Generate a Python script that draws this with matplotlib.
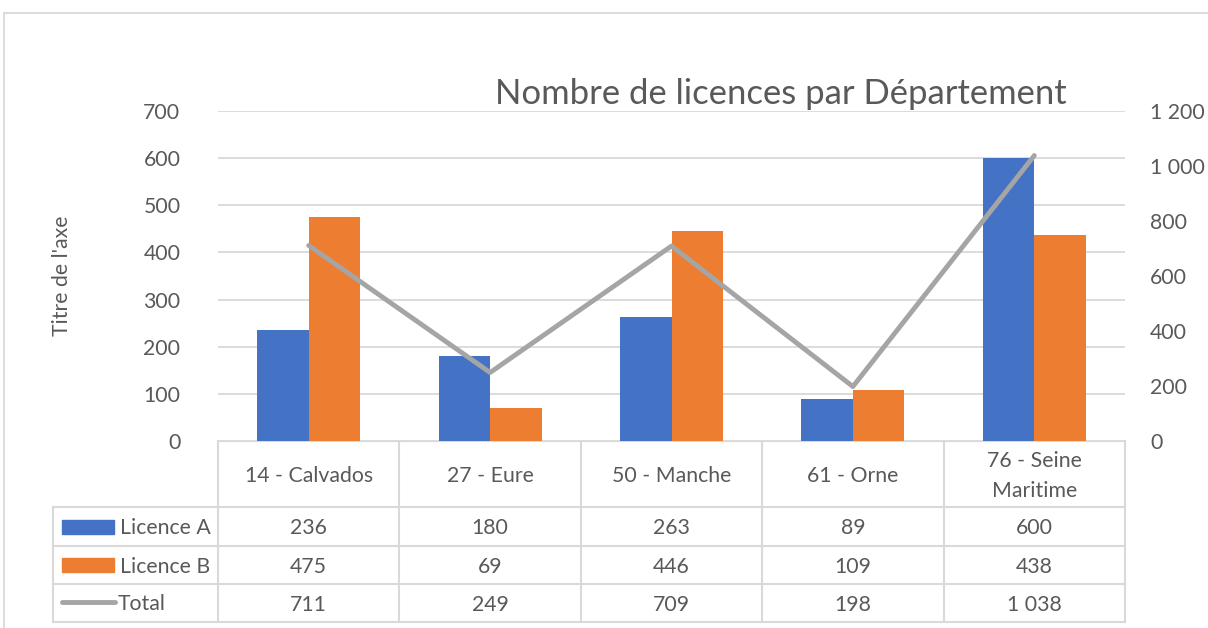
import numpy as np
import matplotlib.pyplot as plt
from matplotlib.ticker import FuncFormatter, MultipleLocator

plt.rcParams['font.family'] = ['Lato', 'DejaVu Sans']

# data
departements = ['14 - Calvados', '27 - Eure', '50 - Manche', '61 - Orne', '76 - Seine\nMaritime']
licence_a = [236, 180, 263, 89, 600]
licence_b = [475, 69, 446, 109, 438]
total = [711, 249, 709, 198, 1038]

BLUE = '#4472C4'
ORANGE = '#ED7D31'
GREY_LINE = '#A5A5A5'
TXT = '#595959'
GRID = '#D9D9D9'
FS = 15.3


def fmt(v, pos=None):
    return '{:,}'.format(int(v)).replace(',', ' ')


W, H = 1208, 628
fig = plt.figure(figsize=(W / 100, H / 100), dpi=100)

# plot area in pixels
left, right, top, bottom = 218, 1125, 111, 441
ax = fig.add_axes([left / W, 1 - bottom / H, (right - left) / W, (bottom - top) / H])

x = np.arange(len(departements))
bw = 0.284
ax.bar(x - bw / 2, licence_a, bw, color=BLUE, zorder=3)
ax.bar(x + bw / 2, licence_b, bw, color=ORANGE, zorder=3)
ax.set_xlim(-0.5, len(departements) - 0.5)
ax.set_ylim(0, 700)
ax.yaxis.set_major_locator(MultipleLocator(100))
ax.grid(axis='y', color=GRID, lw=1.3, zorder=0)
ax.set_xticks([])
ax.tick_params(axis='y', length=0, pad=27, labelsize=FS, labelcolor=TXT)
for s in ax.spines.values():
    s.set_visible(False)
ax.set_ylabel("Titre de l'axe", fontsize=FS, color=TXT)
ax.yaxis.set_label_coords(-0.161, 0.5)

ax2 = ax.twinx()
ax2.plot(x, total, color=GREY_LINE, lw=3.5, solid_capstyle='round', zorder=4)
ax2.set_ylim(0, 1200)
ax2.yaxis.set_major_locator(MultipleLocator(200))
ax2.yaxis.set_major_formatter(FuncFormatter(fmt))
ax2.tick_params(axis='y', length=0, pad=18, labelsize=FS, labelcolor=TXT)
for s in ax2.spines.values():
    s.set_visible(False)

# overlay in pixel coordinates for the frame, title and data table
ov = fig.add_axes([0, 0, 1, 1], zorder=-1)
ov.set_xlim(0, W)
ov.set_ylim(H, 0)
ov.axis('off')

# chart frame
ov.plot([4, W], [13, 13], color=GRID, lw=1.3)
ov.plot([4, 4], [13, H], color=GRID, lw=1.3)

ov.text(781, 104, 'Nombre de licences par Département', ha='center', va='baseline',
        fontsize=24.9, color=TXT)

# data table
cols = np.linspace(left, right, len(departements) + 1)
rows = [bottom, 507, 546, 584, 622]
leg_left = 53
lk = dict(color=GRID, lw=1.5)
ov.plot([left, right], [rows[0], rows[0]], **lk)
for r in rows[1:]:
    ov.plot([leg_left, right], [r, r], **lk)
for c in cols:
    ov.plot([c, c], [rows[0], rows[-1]], **lk)
ov.plot([leg_left, leg_left], [rows[1], rows[-1]], **lk)

centers = (cols[:-1] + cols[1:]) / 2
hy = (rows[0] + rows[1]) / 2 + 2
for cx, name in zip(centers, departements):
    ov.text(cx, hy, name, ha='center', va='center', fontsize=FS, color=TXT, linespacing=1.6)

series = [('Licence A', licence_a), ('Licence B', licence_b), ('Total', total)]
for i, (name, vals) in enumerate(series):
    ry = (rows[i + 1] + rows[i + 2]) / 2
    for cx, v in zip(centers, vals):
        ov.text(cx, ry + 2, fmt(v), ha='center', va='center', fontsize=FS, color=TXT)
    if i < 2:
        ov.add_patch(plt.Rectangle((62, ry - 7), 52, 14, color=[BLUE, ORANGE][i]))
        ov.text(120, ry + 2, name, ha='left', va='center', fontsize=FS, color=TXT)
    else:
        ov.plot([62, 115], [ry - 1, ry - 1], color=GREY_LINE, lw=3.5, solid_capstyle='round')
        ov.text(118, ry + 1, name, ha='left', va='center', fontsize=FS, color=TXT)

fig.savefig('out.png', dpi=100)
